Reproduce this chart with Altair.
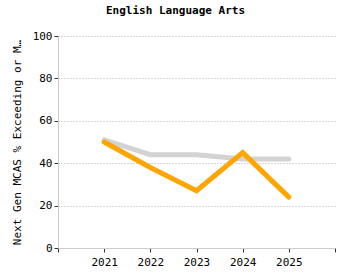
import altair as alt
import pandas as pd

years = [2021, 2022, 2023, 2024, 2025]
school = [50, 38, 27, 45, 24]
state = [51, 44, 44, 42, 42]

rows = []
for y, v in zip(years, state):
    rows.append({"year": y, "value": v, "series": "State"})
for y, v in zip(years, school):
    rows.append({"year": y, "value": v, "series": "School"})
df = pd.DataFrame(rows)

font = "DejaVu Sans Mono"

chart = alt.Chart(df).mark_line(strokeWidth=5, strokeCap="round", strokeJoin="miter").encode(
    x=alt.X("year:Q",
            scale=alt.Scale(domain=[2020, 2026], nice=False, zero=False),
            axis=alt.Axis(title=None, values=[2020, 2021, 2022, 2023, 2024, 2025, 2026],
                          format="d", labelExpr="datum.value == 2020 || datum.value == 2026 ? '' : datum.label",
                          grid=False, domainColor="#cccccc", tickColor="#333333", tickSize=4,
                          labelFont=font, labelFontSize=11, labelColor="#000000", labelPadding=4)),
    y=alt.Y("value:Q",
            scale=alt.Scale(domain=[0, 100]),
            axis=alt.Axis(title="Next Gen MCAS % Exceeding or Meeting Expectations",
                          values=[0, 20, 40, 60, 80, 100], titleLimit=208,
                          titleFont=font, titleFontSize=11, titleFontWeight="normal", titleColor="#000000",
                          titlePadding=10,
                          labelFont=font, labelFontSize=11, labelColor="#000000",
                          grid=True, gridDash=[1, 2], gridColor="#b0b0b0",
                          domainColor="#cccccc", tickColor="#333333", tickSize=4)),
    color=alt.Color("series:N", scale=alt.Scale(domain=["State", "School"], range=["#d3d3d3", "#ffa500"]), legend=None),
    order=alt.Order("series:N", sort="descending"),
    detail="series:N",
).properties(
    width=277,
    height=212,
    title=alt.TitleParams("English Language Arts", font=font, fontSize=11, fontWeight="bold", color="#000000", offset=14, dx=-21),
    autosize=alt.AutoSizeParams(type="none"),
    padding={"left": 58, "top": 36, "right": 15, "bottom": 32},
).configure_view(stroke=None)

chart.save("out.html", embed_options={"renderer": "svg", "actions": False})
